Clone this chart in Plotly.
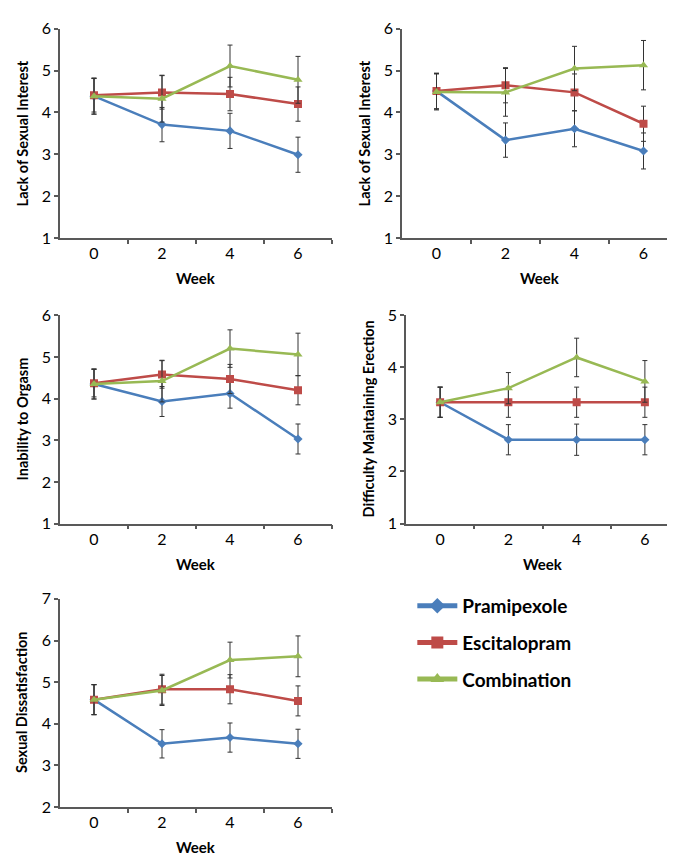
import plotly.graph_objects as go

# weeks on the x axis
weeks = [0, 2, 4, 6]

series_names = ["Pramipexole", "Escitalopram", "Combination"]
series_colors = ["#4A7EBB", "#BE4B48", "#98B954"]
series_symbols = ["diamond", "square", "triangle-up"]
series_sizes = [7, 8, 8]

# Panel 1: Lack of Sexual Interest
p1_pram = [4.39, 3.71, 3.56, 2.99]
p1_pram_err = [0.43, 0.41, 0.42, 0.42]
p1_esc = [4.41, 4.48, 4.44, 4.20]
p1_esc_err = [0.40, 0.40, 0.40, 0.41]
p1_comb = [4.39, 4.33, 5.11, 4.78]
p1_comb_err = [0.43, 0.56, 0.50, 0.56]

# Panel 2: Lack of Sexual Interest
p2_pram = [4.51, 3.34, 3.61, 3.08]
p2_pram_err = [0.43, 0.41, 0.43, 0.43]
p2_esc = [4.51, 4.65, 4.48, 3.73]
p2_esc_err = [0.42, 0.42, 0.44, 0.42]
p2_comb = [4.49, 4.48, 5.05, 5.13]
p2_comb_err = [0.43, 0.57, 0.53, 0.59]

# Panel 3: Inability to Orgasm
p3_pram = [4.35, 3.93, 4.12, 3.03]
p3_pram_err = [0.36, 0.36, 0.35, 0.36]
p3_esc = [4.37, 4.58, 4.47, 4.20]
p3_esc_err = [0.33, 0.33, 0.35, 0.35]
p3_comb = [4.35, 4.42, 5.20, 5.06]
p3_comb_err = [0.36, 0.50, 0.45, 0.51]

# Panel 4: Difficulty Maintaining Erection
p4_pram = [3.33, 2.61, 2.61, 2.61]
p4_pram_err = [0.29, 0.29, 0.30, 0.29]
p4_esc = [3.33, 3.33, 3.33, 3.33]
p4_esc_err = [0.29, 0.29, 0.29, 0.29]
p4_comb = [3.33, 3.60, 4.19, 3.73]
p4_comb_err = [0.29, 0.30, 0.37, 0.40]

# Panel 5: Sexual Dissatisfaction
p5_pram = [4.58, 3.52, 3.67, 3.52]
p5_pram_err = [0.36, 0.34, 0.35, 0.35]
p5_esc = [4.58, 4.83, 4.83, 4.55]
p5_esc_err = [0.36, 0.36, 0.35, 0.36]
p5_comb = [4.58, 4.80, 5.53, 5.62]
p5_comb_err = [0.36, 0.36, 0.43, 0.49]

panels = [
    ("Lack of Sexual Interest", [1, 6], [p1_pram, p1_esc, p1_comb], [p1_pram_err, p1_esc_err, p1_comb_err]),
    ("Lack of Sexual Interest", [1, 6], [p2_pram, p2_esc, p2_comb], [p2_pram_err, p2_esc_err, p2_comb_err]),
    ("Inability to Orgasm", [1, 6], [p3_pram, p3_esc, p3_comb], [p3_pram_err, p3_esc_err, p3_comb_err]),
    ("Difficulty Maintaining Erection", [1, 5], [p4_pram, p4_esc, p4_comb], [p4_pram_err, p4_esc_err, p4_comb_err]),
    ("Sexual Dissatisfaction", [2, 7], [p5_pram, p5_esc, p5_comb], [p5_pram_err, p5_esc_err, p5_comb_err]),
]

W, H = 675, 858
# pixel boxes of each plot area: (left, right, top, bottom)
boxes = [
    (52, 324, 11, 225),
    (394, 670, 11, 225),
    (52, 324, 304, 517),
    (398, 671, 304, 517),
    (52, 324, 594, 807),
]

FONT = "Lato, Open Sans, sans-serif"
AXIS_COLOR = "#595959"

fig = go.Figure()
layout = dict(
    width=W,
    height=H,
    margin=dict(l=0, r=0, t=0, b=0),
    paper_bgcolor="white",
    plot_bgcolor="white",
    font=dict(family=FONT, color="black"),
    annotations=[],
)

for i, (title, yrange, means, errs) in enumerate(panels):
    n = "" if i == 0 else str(i + 1)
    left, right, top, bottom = boxes[i]
    layout["xaxis" + n] = dict(
        domain=[left / W, right / W],
        anchor="y" + n,
        range=[-1, 7],
        tickvals=weeks,
        ticktext=[str(w) for w in weeks],
        ticks="",
        showline=True,
        linecolor=AXIS_COLOR,
        linewidth=1.5,
        showgrid=False,
        zeroline=False,
        tickfont=dict(size=16, family=FONT),
        minor=dict(tickvals=[1, 3, 5, 7], ticks="outside", ticklen=4, tickcolor=AXIS_COLOR, tickwidth=1.5),
        fixedrange=True,
    )
    layout["yaxis" + n] = dict(
        domain=[1 - bottom / H, 1 - top / H],
        anchor="x" + n,
        range=yrange,
        dtick=1,
        ticks="outside",
        ticklen=4,
        tickcolor=AXIS_COLOR,
        tickwidth=1.5,
        showline=True,
        linecolor=AXIS_COLOR,
        linewidth=1.5,
        showgrid=False,
        zeroline=False,
        tickfont=dict(size=16, family=FONT),
        fixedrange=True,
    )
    layout["annotations"].append(dict(
        text="<b>Week</b>", xref="x%s domain" % n, yref="y%s domain" % n,
        x=0.5, y=0, yshift=-40, showarrow=False, font=dict(size=15, family=FONT),
        xanchor="center", yanchor="middle",
    ))
    layout["annotations"].append(dict(
        text="<b>%s</b>" % title, xref="x%s domain" % n, yref="y%s domain" % n,
        x=0, y=0.5, xshift=-38, textangle=-90, showarrow=False,
        font=dict(size=14.5, family=FONT), xanchor="center", yanchor="middle",
    ))

    for s in range(3):
        fig.add_trace(go.Scatter(
            x=weeks,
            y=means[s],
            xaxis="x" + n,
            yaxis="y" + n,
            mode="lines+markers",
            name=series_names[s],
            showlegend=False,
            line=dict(color=series_colors[s], width=2.5),
            marker=dict(symbol=series_symbols[s], size=series_sizes[s], color=series_colors[s]),
            error_y=dict(type="data", array=errs[s], visible=True, color="#333333", thickness=1, width=2.5),
        ))

# legend-only traces with the bigger legend symbols
for s in range(3):
    fig.add_trace(go.Scatter(
        x=[None], y=[None],
        mode="lines+markers",
        name="<b>%s</b>" % series_names[s],
        legendgroup=series_names[s],
        line=dict(color=series_colors[s], width=5),
        marker=dict(symbol=series_symbols[s], size=12, color=series_colors[s]),
    ))

layout["legend"] = dict(
    x=0.599, y=0.322, xanchor="left", yanchor="top",
    font=dict(size=19, family=FONT, color="black"),
    tracegroupgap=9,
    bgcolor="rgba(0,0,0,0)",
    itemwidth=40,
)
layout["showlegend"] = True

fig.update_layout(**layout)

fig.write_html("out.html")
